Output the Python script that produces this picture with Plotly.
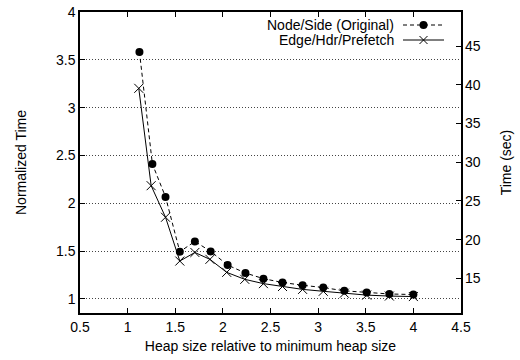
import plotly.graph_objects as go

# Data
heap_orig = [1.124, 1.26, 1.398, 1.548, 1.706, 1.872, 2.05, 2.237, 2.426, 2.626, 2.837, 3.054, 3.275, 3.51, 3.748, 4.0]
time_orig = [3.583, 2.41, 2.067, 1.494, 1.601, 1.497, 1.354, 1.271, 1.212, 1.172, 1.143, 1.119, 1.085, 1.067, 1.052, 1.046]

heap_edge = [1.117, 1.247, 1.398, 1.548, 1.706, 1.864, 2.04, 2.23, 2.426, 2.626, 2.837, 3.054, 3.275, 3.51, 3.748, 4.0]
time_edge = [3.202, 2.184, 1.854, 1.396, 1.486, 1.414, 1.278, 1.205, 1.16, 1.13, 1.10, 1.08, 1.06, 1.04, 1.03, 1.025]

series_names = ["Node/Side (Original)", "Edge/Hdr/Prefetch"]

scale_sec = 12.35  # seconds per normalized unit
y_range = [0.853, 4.0]
x_ticks = [0.5, 1, 1.5, 2, 2.5, 3, 3.5, 4, 4.5]
y_ticks = [1, 1.5, 2, 2.5, 3, 3.5, 4]
y2_ticks = [15, 20, 25, 30, 35, 40, 45]

FONT = "Liberation Sans, Arial, Helvetica, sans-serif"
FS = 14

fig = go.Figure()
fig.add_trace(go.Scatter(
    x=heap_orig, y=time_orig, mode="lines+markers", name=series_names[0],
    line=dict(color="black", width=1, dash="4px,3px"),
    marker=dict(symbol="circle", size=8, color="black"),
    showlegend=False,
))
fig.add_trace(go.Scatter(
    x=heap_edge, y=time_edge, mode="lines+markers", name=series_names[1],
    line=dict(color="black", width=1),
    marker=dict(symbol="x-thin-open", size=9, color="black", line=dict(color="black", width=1)),
    showlegend=False,
))
# invisible trace to activate right axis
fig.add_trace(go.Scatter(x=[None], y=[None], yaxis="y2", showlegend=False, hoverinfo="skip"))

# Manual gnuplot-style legend (text right-aligned, sample on the right)
PW, PH = 381, 301
leg_rows = [25, 40]
for i, name in enumerate(series_names):
    fig.add_annotation(
        text=name, xref="paper", yref="paper", x=(396 - 80) / PW, y=1 - (leg_rows[i] - 12) / PH,
        xanchor="right", yanchor="middle", showarrow=False,
        font=dict(family=FONT, size=FS, color="black"),
    )
x0p, x1p = (403 - 80) / PW, (444 - 80) / PW
yp0 = 1 - (leg_rows[0] - 12) / PH
yp1 = 1 - (leg_rows[1] - 12) / PH
fig.add_shape(type="line", xref="paper", yref="paper", x0=x0p, x1=x1p, y0=yp0, y1=yp0,
              line=dict(color="black", width=1, dash="4px,3px"))
fig.add_shape(type="line", xref="paper", yref="paper", x0=x0p, x1=x1p, y0=yp1, y1=yp1,
              line=dict(color="black", width=1))
cx = (x0p + x1p) / 2
dx, dy = 4 / PW, 4 / PH
fig.add_shape(type="circle", xref="paper", yref="paper", x0=cx - dx, x1=cx + dx, y0=yp0 - dy, y1=yp0 + dy,
              fillcolor="black", line=dict(color="black", width=0))
fig.add_shape(type="line", xref="paper", yref="paper", x0=cx - dx, x1=cx + dx, y0=yp1 - dy, y1=yp1 + dy,
              line=dict(color="black", width=1))
fig.add_shape(type="line", xref="paper", yref="paper", x0=cx - dx, x1=cx + dx, y0=yp1 + dy, y1=yp1 - dy,
              line=dict(color="black", width=1))

fig.update_layout(
    width=520, height=360,
    margin=dict(l=80, r=59, t=12, b=47, autoexpand=False),
    paper_bgcolor="white", plot_bgcolor="white",
    font=dict(family=FONT, size=FS, color="black"),
    showlegend=False,
    xaxis=dict(
        range=[0.5, 4.5], tickvals=x_ticks, ticktext=[f"{v:g}" for v in x_ticks],
        ticks="inside", ticklen=5, tickcolor="black", tickwidth=1,
        showline=True, linecolor="black", linewidth=1.5, mirror="ticks",
        showgrid=False, zeroline=False, automargin=False,
        title=dict(text="Heap size relative to minimum heap size", standoff=8, font=dict(size=FS)),
    ),
    yaxis=dict(
        range=y_range, tickvals=y_ticks, ticktext=[f"{v:g}" for v in y_ticks],
        ticks="inside", ticklen=5, tickcolor="black", tickwidth=1,
        showline=True, linecolor="black", linewidth=1.5, mirror=True,
        showgrid=True, gridcolor="#444444", gridwidth=1, griddash="1px,2px",
        zeroline=False, automargin=False,
        title=dict(text="Normalized Time", standoff=26, font=dict(size=FS)),
    ),
    yaxis2=dict(
        overlaying="y", side="right",
        range=[y_range[0] * scale_sec, y_range[1] * scale_sec], tickvals=y2_ticks,
        ticks="inside", ticklen=5, tickcolor="black", tickwidth=1, ticklabelstandoff=3,
        showline=False, showgrid=False, zeroline=False, automargin=False,
        title=dict(text="Time (sec)", standoff=21, font=dict(size=FS)),
    ),
)

fig.write_html("out.html", config={"displayModeBar": False},
               post_script="document.body.style.margin='0px';")
